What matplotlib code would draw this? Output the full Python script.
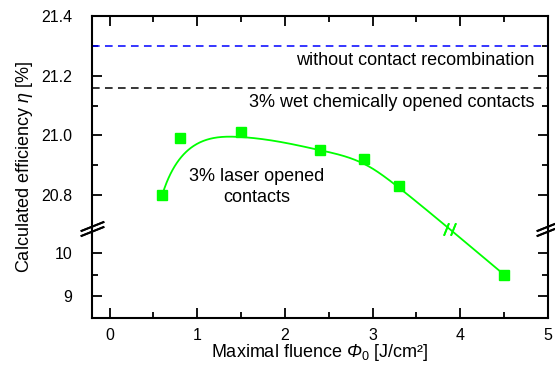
import numpy as np
import matplotlib
matplotlib.use("Agg")
import matplotlib.pyplot as plt
from matplotlib.scale import FuncScale
import matplotlib.transforms as mtransforms

plt.rcParams['font.family'] = ['Liberation Sans', 'DejaVu Sans']
plt.rcParams['mathtext.fontset'] = 'custom'
plt.rcParams['mathtext.rm'] = 'Liberation Sans'
plt.rcParams['mathtext.it'] = 'Liberation Sans:italic'
plt.rcParams['mathtext.sf'] = 'Liberation Sans:italic'

# ---- data ----
fluence = [0.6, 0.8, 1.5, 2.4, 2.9, 3.3, 4.5]
efficiency = [20.80, 20.99, 21.01, 20.95, 20.92, 20.83, 9.50]
no_recomb = 21.30
wet_chem = 21.16
x_ticks = [0, 1, 2, 3, 4, 5]
y_major = [9, 10, 20.8, 21.0, 21.2, 21.4]
y_major_labels = ["9", "10", "20.8", "21.0", "21.2", "21.4"]
y_minor = [9.5, 20.9, 21.1, 21.3]

# ---- broken scale ----
LOW_MIN, LOW_MAX = 8.5, 10.58
UP_MIN, UP_MAX = 20.69, 21.4
H_LOW, H_UP = 90.0, 212.0
KL = H_LOW / (LOW_MAX - LOW_MIN)
KU = H_UP / (UP_MAX - UP_MIN)

def fwd(y):
    y = np.asarray(y, dtype=float)
    return np.where(y <= LOW_MAX, (y - LOW_MIN) * KL,
                    np.where(y >= UP_MIN, H_LOW + (y - UP_MIN) * KU, H_LOW))

def inv(t):
    t = np.asarray(t, dtype=float)
    return np.where(t <= H_LOW, LOW_MIN + t / KL, UP_MIN + (t - H_LOW) / KU)

def bspline(px, py, n_out=500, k=3):
    """Clamped uniform B-spline using the data points as control points."""
    P = np.column_stack([px, py]).astype(float)
    n = len(P)
    inner = np.arange(1, n - k)
    knots = np.concatenate([np.zeros(k + 1), inner, np.full(k + 1, n - k)]).astype(float)
    us = np.linspace(0, n - k, n_out)
    us[-1] -= 1e-9
    def basis(i, d, u):
        if d == 0:
            return ((knots[i] <= u) & (u < knots[i + 1])).astype(float)
        a = 0.0
        den1 = knots[i + d] - knots[i]
        den2 = knots[i + d + 1] - knots[i + 1]
        if den1 > 0:
            a = a + (u - knots[i]) / den1 * basis(i, d - 1, u)
        if den2 > 0:
            a = a + (knots[i + d + 1] - u) / den2 * basis(i + 1, d - 1, u)
        return a
    B = np.column_stack([basis(i, k, us) for i in range(n)])
    C = B @ P
    return C[:, 0], C[:, 1]

fig = plt.figure(figsize=(5.55, 3.72), dpi=100)
ax = fig.add_axes([92 / 555, 1 - 318 / 372, 456 / 555, 302 / 372])
ax.set_yscale(FuncScale(ax, (fwd, inv)))
ax.set_xlim(-0.2, 5)
ax.set_ylim(LOW_MIN, UP_MAX)

green = '#00ff00'
xs, ts = bspline(fluence, fwd(efficiency))
ax.plot(xs, inv(ts), color=green, lw=1.3, zorder=3)
ax.plot(fluence, efficiency, ls='none', marker='s', ms=6.5, color=green,
        mec=green, zorder=4)

# break mark on the curve
ib = np.argmin(np.abs(ts - H_LOW))
xb, yb = xs[ib], inv(ts[ib])
for dx in (-3.5, 3.5):
    off = mtransforms.offset_copy(ax.transData, fig=fig, x=dx, y=0, units='dots')
    ax.plot([xb, xb], [yb, yb], transform=off, marker=[(-0.4, -1), (0.4, 1)],
            ms=9, mew=1.3, color=green, zorder=5)

ax.axhline(no_recomb, color='#0000ff', lw=1.1, ls=(0, (5, 3.5)))
ax.axhline(wet_chem, color='black', lw=1.1, ls=(0, (5, 3.5)))

FS = 13
ax.text(4.846, 21.252, 'without contact recombination', ha='right', va='center', fontsize=FS)
ax.text(4.846, 21.11, '3% wet chemically opened contacts', ha='right', va='center', fontsize=FS)
ax.text(1.68, 20.828, '3% laser opened\ncontacts', ha='center', va='center',
        fontsize=FS, linespacing=1.35)

# ticks
ax.set_xticks(x_ticks)
ax.set_xticks(np.arange(0.5, 5, 1.0), minor=True)
ax.set_yticks(y_major)
ax.set_yticklabels(y_major_labels)
ax.set_yticks(y_minor, minor=True)
ax.tick_params(which='both', direction='in', top=True, right=True, width=1.3,
               labelsize=11.5)
ax.tick_params(which='major', length=7)
ax.tick_params(which='minor', length=4)
ax.tick_params(axis='y', which='major', pad=14)
ax.tick_params(axis='x', which='major', pad=7.5)
for s in ax.spines.values():
    s.set_linewidth(1.5)

# break marks on the y spines
tb = H_LOW / (H_LOW + H_UP)
for xa in (0, 1):
    for dy in (-2.5, 2.5):
        off = mtransforms.offset_copy(ax.transAxes, fig=fig, x=0, y=dy, units='dots')
        ax.plot([xa, xa], [tb, tb], transform=off, marker=[(-1, -0.4), (1, 0.4)],
                ms=17, mew=1.4, color='black', clip_on=False, zorder=6)

ax.set_xlabel(r'Maximal fluence $\mathsf{Φ}_0$ [J/cm²]', fontsize=FS, labelpad=-1)
ax.set_ylabel(r'Calculated efficiency $\mathit{\eta}$ [%]', fontsize=FS, labelpad=4.5)

fig.savefig('out.png', dpi=100)
